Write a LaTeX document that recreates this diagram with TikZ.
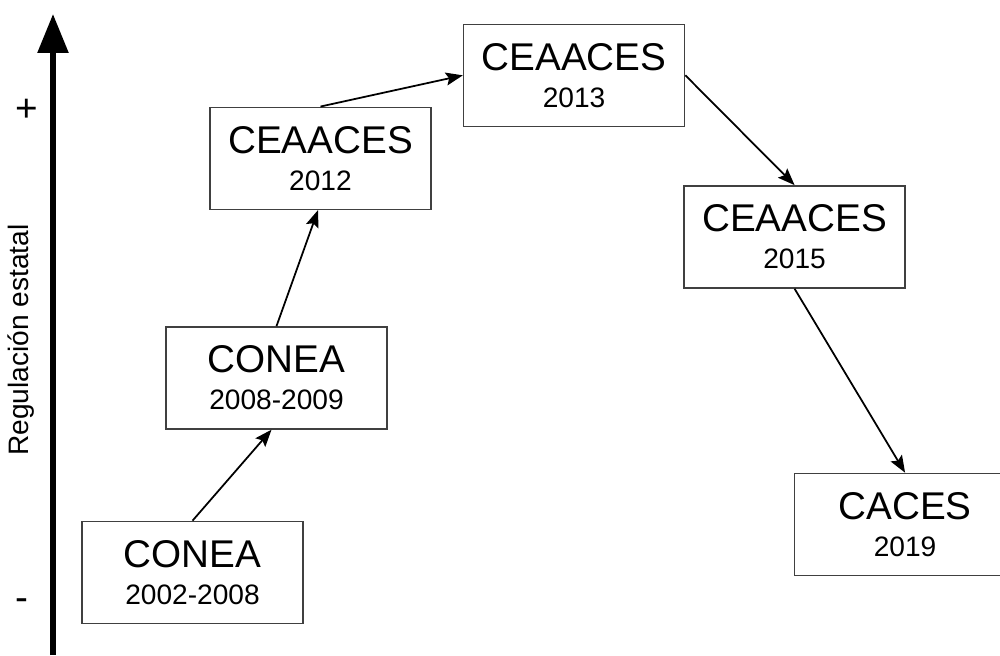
\documentclass[tikz,border=0pt]{standalone}
\usepackage{fontspec}
\setmainfont{Liberation Sans}
\usepackage{tikz}
\usetikzlibrary{arrows.meta, positioning}
\newcommand{\nombre}{\fontsize{22}{26}\selectfont}

\begin{document}
\begin{tikzpicture}[
    era/.style={draw=black!75, line width=0.9pt, minimum width=4.42cm, minimum height=2.04cm,
      align=center, font=\fontsize{16}{21}\selectfont},
    eje/.style={-{Triangle[width=0.6cm, length=0.78cm]}, line width=3.2pt},
    arrow/.style={-{Stealth[length=0.34cm, width=0.26cm, inset=0.06cm]}, line width=1pt},
    signo/.style={font=\fontsize{22}{24}\selectfont}
]
\useasboundingbox (0,0) rectangle (20,13.1);

% Axis
\coordinate (base) at (1.06,0);
\coordinate (tope) at (1.06,12.82);
\draw[eje] (base) -- (tope);
\node[signo] (mas) at (0.54,10.9) {+};
\node[signo] (menos) at (0.44,1.0) {-};
\node[font=\fontsize{16}{20}\selectfont, rotate=90] (regulacion) at (0.42,6.3) {Regulación estatal};

% Stages
\node[era] (conea1) at (3.85,1.65) {{\nombre CONEA}\\2002-2008};
\node[era, above=1.82cm of conea1, xshift=1.68cm] (conea2) {{\nombre CONEA}\\2008-2009};
\node[era, above=2.32cm of conea2, xshift=0.88cm] (ceaaces1) {{\nombre CEAACES}\\2012};
\node[era, right=0.62cm of ceaaces1, yshift=1.66cm] (ceaaces2) {{\nombre CEAACES}\\2013};
\node[era, below=1.16cm of ceaaces2, xshift=4.41cm] (ceaaces3) {{\nombre CEAACES}\\2015};
\node[era, below=3.68cm of ceaaces3, xshift=2.21cm] (caces) {{\nombre CACES}\\2019};

% Arrows
\draw[arrow] (conea1.north) -- ([xshift=-0.1cm]conea2.south);
\draw[arrow] (conea2.north) -- ([xshift=-0.05cm]ceaaces1.south);
\draw[arrow] (ceaaces1.north) -- (ceaaces2.west);
\draw[arrow] (ceaaces2.east) -- (ceaaces3.north);
\draw[arrow] (ceaaces3.south) -- (caces.north);

\end{tikzpicture}
\end{document}
